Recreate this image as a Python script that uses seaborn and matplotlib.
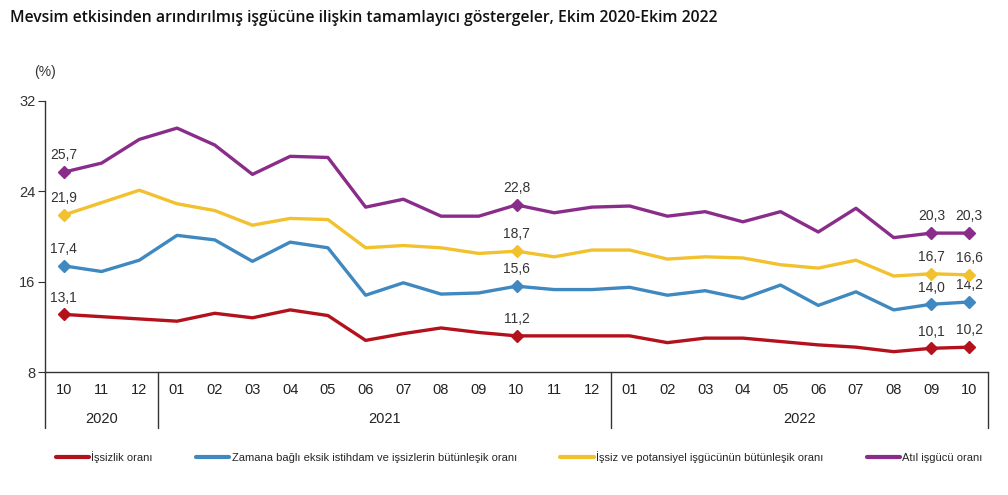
import pandas as pd
import numpy as np
import matplotlib
matplotlib.use('Agg')
import matplotlib.pyplot as plt
import seaborn as sns

# Veriler (Ekim 2020 - Ekim 2022, mevsim etkisinden arındırılmış)
aylar = ['10', '11', '12',
         '01', '02', '03', '04', '05', '06', '07', '08', '09', '10', '11', '12',
         '01', '02', '03', '04', '05', '06', '07', '08', '09', '10']
yillar = ['2020', '2021', '2022']

issizlik = [13.1, 12.9, 12.7, 12.5, 13.2, 12.8, 13.5, 13.0, 10.8, 11.4, 11.9, 11.5, 11.2,
            11.2, 11.2, 11.2, 10.6, 11.0, 11.0, 10.7, 10.4, 10.2, 9.8, 10.1, 10.2]
zamana_bagli = [17.4, 16.9, 17.9, 20.1, 19.7, 17.8, 19.5, 19.0, 14.8, 15.9, 14.9, 15.0, 15.6,
                15.3, 15.3, 15.5, 14.8, 15.2, 14.5, 15.7, 13.9, 15.1, 13.5, 14.0, 14.2]
potansiyel = [21.9, 23.0, 24.1, 22.9, 22.3, 21.0, 21.6, 21.5, 19.0, 19.2, 19.0, 18.5, 18.7,
              18.2, 18.8, 18.8, 18.0, 18.2, 18.1, 17.5, 17.2, 17.9, 16.5, 16.7, 16.6]
atil = [25.7, 26.5, 28.6, 29.6, 28.1, 25.5, 27.1, 27.0, 22.6, 23.3, 21.8, 21.8, 22.8,
        22.1, 22.6, 22.7, 21.8, 22.2, 21.3, 22.2, 20.4, 22.5, 19.9, 20.3, 20.3]

seri_adlari = ['İşsizlik oranı',
               'Zamana bağlı eksik istihdam ve işsizlerin bütünleşik oranı',
               'İşsiz ve potansiyel işgücünün bütünleşik oranı',
               'Atıl işgücü oranı']
renkler = ['#B3121C', '#3F88C0', '#F2C12E', '#8A2C8A']
etiketli = [0, 12, 23, 24]

x = list(range(len(aylar)))
df = pd.concat([
    pd.DataFrame({'x': x, 'deger': v, 'seri': ad})
    for v, ad in zip([issizlik, zamana_bagli, potansiyel, atil], seri_adlari)
])

sns.set_style('white')
plt.rcParams['font.family'] = ['Liberation Sans', 'DejaVu Sans']

fig = plt.figure(figsize=(10.08, 4.95), dpi=100)
ax = fig.add_axes([45 / 1008, 1 - 372 / 495, 943 / 1008, 271 / 495])

sns.lineplot(data=df, x='x', y='deger', hue='seri', palette=renkler,
             linewidth=2.4, ax=ax, legend=True)

# etiketli noktalar
for v, renk in zip([issizlik, zamana_bagli, potansiyel, atil], renkler):
    for i in etiketli:
        ax.plot(i, v[i], marker='D', ms=6, color=renk, zorder=5)
        ax.annotate(f'{v[i]:.1f}'.replace('.', ','), (i, v[i]),
                    xytext=(0, 7), textcoords='offset points',
                    ha='center', va='bottom', fontsize=10, color='#333333')

ax.set_xlim(-0.5, 24.5)
ax.set_ylim(8, 32)
ax.set_yticks([8, 16, 24, 32])
ax.set_xticks(x)
ax.set_xticklabels(aylar, fontsize=10.5, color='#222222')
ax.tick_params(axis='x', length=0, pad=8)
ax.tick_params(axis='y', length=5, width=0.8, color='#333333', left=True,
               labelsize=10.5, labelcolor='#333333', pad=2)
ax.set_xlabel('')
ax.set_ylabel('')
for s in ['top', 'right']:
    ax.spines[s].set_visible(False)
for s in ['left', 'bottom']:
    ax.spines[s].set_color('#333333')
    ax.spines[s].set_linewidth(1.0)

# yıl tablosu
alt = -56 / 271
trans = ax.get_xaxis_transform()
for xs in [-0.5, 2.5, 14.5, 24.5]:
    ax.plot([xs, xs], [0, alt], transform=trans, color='#333333', lw=1.0,
            clip_on=False)
for yil, xm in zip(yillar, [1, 8.5, 19.5]):
    ax.text(xm, -47 / 271, yil, transform=trans, ha='center', va='center',
            fontsize=10.5, color='#222222')

ax.text(0, 1 + 29 / 271, '(%)', transform=ax.transAxes, ha='center',
        va='center', fontsize=10, color='#333333')

fig.text(10 / 1008, 1 - 18 / 495,
         'Mevsim etkisinden arındırılmış işgücüne ilişkin tamamlayıcı göstergeler, Ekim 2020-Ekim 2022',
         ha='left', va='center', fontsize=11.3, fontweight='semibold',
         family=['Open Sans', 'DejaVu Sans'], color='#111111')

handles, labels = ax.get_legend_handles_labels()
ax.get_legend().remove()
leg = fig.legend(handles, labels, loc='center', bbox_to_anchor=(0.515, 1 - 457 / 495),
                 ncol=4, frameon=False, fontsize=8, handlelength=3.0,
                 handletextpad=0.2, columnspacing=3.9)
for line in leg.get_lines():
    line.set_linewidth(3)

fig.savefig('out.png', dpi=100)
